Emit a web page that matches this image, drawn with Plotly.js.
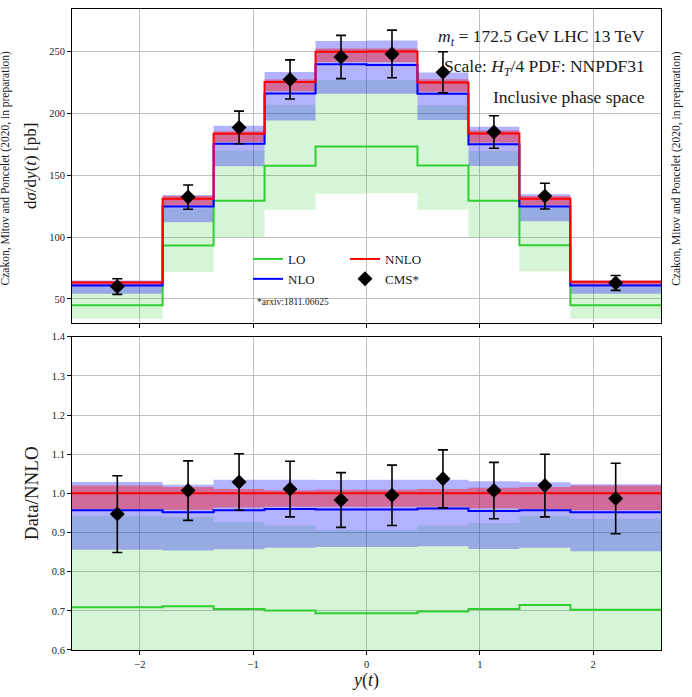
<!DOCTYPE html>
<html>
<head>
<meta charset="utf-8">
<script src="https://cdn.plot.ly/plotly-3.0.1.min.js"></script>
<style>html,body{margin:0;padding:0;background:#fff;}#chart{width:692px;height:697px;}</style>
</head>
<body>
<div id="chart"></div>
<script>
// ---- data ----
const binEdges   = [-2.6, -1.8, -1.35, -0.9, -0.45, 0, 0.45, 0.9, 1.35, 1.8, 2.6];
const binCenters = [-2.2, -1.575, -1.125, -0.675, -0.225, 0.225, 0.675, 1.125, 1.575, 2.2];

// top panel: dsigma/dy(t) [pb]
const loXsec    = [44.9, 93.1, 129.3, 157.6, 173.2, 173.2, 157.8, 129.3, 93.3, 45.0];
const loLow     = [34.0, 71.8, 99.9, 122.0, 135.0, 135.5, 122.0, 99.9, 72.1, 34.0];
const loHigh    = [59.6, 123.0, 169.9, 207.0, 226.8, 226.8, 206.6, 169.6, 123.5, 59.4];
const nloXsec   = [60.8, 124.7, 175.4, 216.1, 239.6, 239.0, 215.9, 175.1, 124.7, 60.8];
const nloLow    = [54.1, 111.9, 157.3, 194.2, 215.8, 215.8, 194.6, 157.4, 112.8, 54.1];
const nloHigh   = [65.0, 133.9, 189.9, 233.4, 258.5, 258.8, 232.9, 189.2, 134.7, 65.0];
const nnloXsec  = [63.2, 131.0, 183.5, 225.3, 249.8, 250.0, 225.0, 183.7, 130.9, 63.8];
const nnloLow   = [60.7, 125.5, 176.9, 217.8, 241.5, 241.5, 217.4, 176.5, 125.8, 60.8];
const nnloHigh  = [64.5, 133.1, 185.5, 227.3, 252.3, 252.3, 227.5, 186.1, 133.1, 64.8];
const cmsXsec   = [60.0, 132.3, 188.6, 227.4, 245.5, 248.0, 233.1, 184.9, 133.1, 62.9];
const cmsErr    = [6.3, 9.8, 13.2, 15.8, 17.5, 19.2, 16.6, 13.1, 10.4, 6.0];

// bottom panel: Data/NNLO
const ratioLO       = [0.709, 0.712, 0.705, 0.701, 0.694, 0.694, 0.698, 0.705, 0.715, 0.703];
const ratioLOLow    = [0.540, 0.548, 0.544, 0.541, 0.540, 0.542, 0.542, 0.544, 0.550, 0.535];
const ratioLOHigh   = [0.943, 0.939, 0.926, 0.918, 0.907, 0.907, 0.918, 0.924, 0.943, 0.935];
const ratioNLO      = [0.957, 0.952, 0.957, 0.960, 0.959, 0.959, 0.961, 0.955, 0.957, 0.952];
const ratioNLOLow   = [0.856, 0.854, 0.857, 0.861, 0.863, 0.863, 0.865, 0.858, 0.861, 0.852];
const ratioNLOHigh  = [1.029, 1.022, 1.035, 1.035, 1.034, 1.035, 1.035, 1.031, 1.028, 1.023];
const ratioNNLO     = [1.0, 1.0, 1.0, 1.0, 1.0, 1.0, 1.0, 1.0, 1.0, 1.0];
const ratioNNLOLow  = [0.960, 0.958, 0.964, 0.966, 0.966, 0.966, 0.966, 0.962, 0.960, 0.957];
const ratioNNLOHigh = [1.020, 1.016, 1.011, 1.008, 1.009, 1.009, 1.011, 1.014, 1.016, 1.020];
const ratioCMS      = [0.947, 1.007, 1.029, 1.011, 0.983, 0.995, 1.037, 1.007, 1.020, 0.987];
const ratioCMSErr   = [0.098, 0.076, 0.072, 0.071, 0.070, 0.077, 0.074, 0.072, 0.080, 0.090];

const xTickVals = [-2, -1, 0, 1, 2];
const topYTicks = [50, 100, 150, 200, 250];
const botYTicks = [0.6, 0.7, 0.8, 0.9, 1.0, 1.1, 1.2, 1.3, 1.4];

// ---- styling ----
const FONT = 'Liberation Serif, DejaVu Serif, serif';
const TXT = '#1a1a1a';
const cLO = '#32cd32', cNLO = '#0000ff', cNNLO = '#ff0000';
const fLO = 'rgba(50,205,50,0.2)', fNLO = 'rgba(0,0,255,0.3)', fNNLO = 'rgba(255,0,0,0.4)';

function stepY(v) { return v.concat([v[v.length - 1]]); }

function band(low, high, fill, xa, ya) {
  return [
    {x: binEdges, y: stepY(low), xaxis: xa, yaxis: ya, mode: 'lines', line: {shape: 'hv', width: 0, color: fill},
     showlegend: false, hoverinfo: 'skip'},
    {x: binEdges, y: stepY(high), xaxis: xa, yaxis: ya, mode: 'lines', line: {shape: 'hv', width: 0, color: fill},
     fill: 'tonexty', fillcolor: fill, showlegend: false, hoverinfo: 'skip'}
  ];
}
function stepLine(v, color, name, xa, ya, legend, show) {
  return {x: binEdges, y: stepY(v), xaxis: xa, yaxis: ya, mode: 'lines', name: name,
          line: {shape: 'hv', width: 2, color: color}, showlegend: show, legend: legend};
}
function points(y, err, name, xa, ya, show) {
  return {x: binCenters, y: y, xaxis: xa, yaxis: ya, mode: 'markers', name: name,
          marker: {symbol: 'diamond', size: 11.5, color: '#000'},
          error_y: {type: 'data', array: err, visible: true, color: '#000', thickness: 1.6, width: 5},
          showlegend: show, legend: 'legend2'};
}

const traces = [].concat(
  band(loLow, loHigh, fLO, 'x', 'y'),
  band(nloLow, nloHigh, fNLO, 'x', 'y'),
  band(nnloLow, nnloHigh, fNNLO, 'x', 'y'),
  [stepLine(loXsec, cLO, 'LO', 'x', 'y', 'legend', true),
   stepLine(nloXsec, cNLO, 'NLO', 'x', 'y', 'legend', true),
   stepLine(nnloXsec, cNNLO, 'NNLO', 'x', 'y', 'legend2', true),
   points(cmsXsec, cmsErr, 'CMS*', 'x', 'y', true)],
  band(ratioLOLow, ratioLOHigh, fLO, 'x2', 'y2'),
  band(ratioNLOLow, ratioNLOHigh, fNLO, 'x2', 'y2'),
  band(ratioNNLOLow, ratioNNLOHigh, fNNLO, 'x2', 'y2'),
  [stepLine(ratioLO, cLO, 'LO', 'x2', 'y2', 'legend', false),
   stepLine(ratioNLO, cNLO, 'NLO', 'x2', 'y2', 'legend', false),
   stepLine(ratioNNLO, cNNLO, 'NNLO', 'x2', 'y2', 'legend', false),
   points(ratioCMS, ratioCMSErr, 'CMS*', 'x2', 'y2', false)]
);

const axisBase = {
  showline: true, linecolor: '#000', linewidth: 1, mirror: true,
  ticks: 'outside', ticklen: 4, tickwidth: 1, tickcolor: '#000',
  showgrid: true, gridcolor: '#b0b0b0', gridwidth: 0.8, zeroline: false,
  tickfont: {family: FONT, size: 10.5, color: TXT}
};

const layout = {
  width: 692, height: 697,
  margin: {l: 72, r: 31, t: 9, b: 47},
  paper_bgcolor: '#fff', plot_bgcolor: '#fff',
  font: {family: FONT, color: TXT},
  xaxis: Object.assign({}, axisBase, {domain: [0, 1], anchor: 'y', range: [-2.6, 2.6], tickvals: xTickVals,
                                      showticklabels: false, matches: 'x2'}),
  yaxis: Object.assign({}, axisBase, {domain: [0.5106, 1], anchor: 'x', range: [30.8, 284.3], tickvals: topYTicks,
          title: {text: 'd<i>σ</i>/d<i>y</i>(<i>t</i>) [pb]', font: {family: FONT, size: 17, color: TXT}, standoff: 8}}),
  xaxis2: Object.assign({}, axisBase, {domain: [0, 1], anchor: 'y2', range: [-2.6, 2.6], tickvals: xTickVals,
          title: {text: '<i>y</i>(<i>t</i>)', font: {family: FONT, size: 18, color: TXT}, standoff: 4}}),
  yaxis2: Object.assign({}, axisBase, {domain: [0, 0.4888], anchor: 'x2', range: [0.6, 1.4], tickvals: botYTicks,
          tickformat: '.1f',
          title: {text: 'Data/NNLO', font: {family: FONT, size: 19, color: TXT}, standoff: 8}}),
  legend: {x: 0.2988, y: 0.6334, xanchor: 'left', yanchor: 'top', bgcolor: 'rgba(0,0,0,0)', traceorder: 'normal',
           font: {family: FONT, size: 13, color: TXT}, tracegroupgap: 0, itemwidth: 30},
  legend2: {x: 0.4635, y: 0.6334, xanchor: 'left', yanchor: 'top', bgcolor: 'rgba(0,0,0,0)', traceorder: 'normal',
           font: {family: FONT, size: 13, color: TXT}, tracegroupgap: 0, itemwidth: 30},
  annotations: [
    {xref: 'paper', yref: 'paper', x: 0.976, y: 0.955, xanchor: 'right', yanchor: 'middle', showarrow: false,
     text: '<i>m</i><sub><i>t</i></sub> = 172.5 GeV LHC 13 TeV', font: {family: FONT, size: 17.5, color: TXT}},
    {xref: 'paper', yref: 'paper', x: 0.976, y: 0.908, xanchor: 'right', yanchor: 'middle', showarrow: false,
     text: 'Scale: <i>H</i><sub><i>T</i></sub>/4 PDF: NNPDF31', font: {family: FONT, size: 17.5, color: TXT}},
    {xref: 'paper', yref: 'paper', x: 0.976, y: 0.863, xanchor: 'right', yanchor: 'middle', showarrow: false,
     text: 'Inclusive phase space', font: {family: FONT, size: 17.5, color: TXT}},
    {xref: 'paper', yref: 'paper', x: 0.3107, y: 0.5434, xanchor: 'left', yanchor: 'middle', showarrow: false,
     text: '*arxiv:1811.06625', font: {family: FONT, size: 9.5, color: TXT}},
    {xref: 'paper', yref: 'paper', x: -0.1129, y: 0.752, xanchor: 'center', yanchor: 'middle', showarrow: false,
     textangle: -90, text: 'Czakon, Mitov and Poncelet (2020, in preparation)', font: {family: FONT, size: 11.5, color: TXT}},
    {xref: 'paper', yref: 'paper', x: 1.027, y: 0.752, xanchor: 'center', yanchor: 'middle', showarrow: false,
     textangle: -90, text: 'Czakon, Mitov and Poncelet (2020, in preparation)', font: {family: FONT, size: 11.5, color: TXT}}
  ]
};

Plotly.newPlot('chart', traces, layout, {displayModeBar: false, staticPlot: true});
</script>
</body>
</html>
